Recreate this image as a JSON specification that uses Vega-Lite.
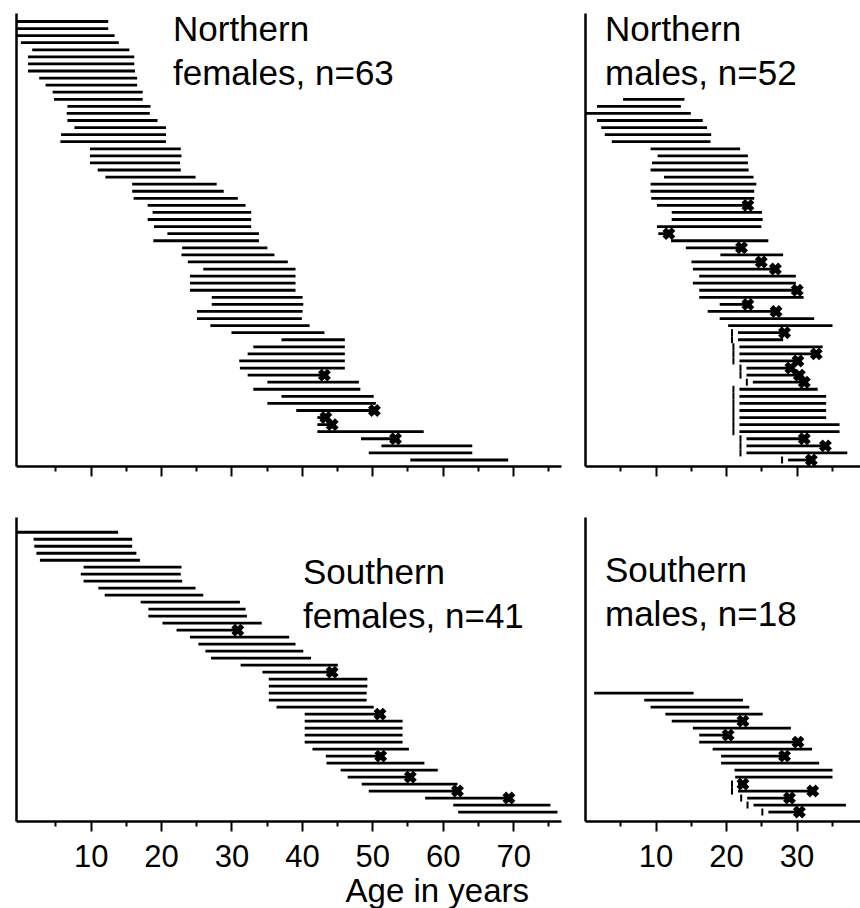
{
  "$schema": "https://vega.github.io/schema/vega-lite/v6.json",
  "background": "white",
  "padding": {"left": 14, "top": 13, "right": 0, "bottom": 0},
  "config": {
    "view": {"stroke": null},
    "font": "Liberation Sans",
    "axis": {"domainColor": "black", "domainWidth": 2.5, "tickColor": "black", "tickWidth": 2, "labelColor": "black", "labelFont": "Liberation Sans", "labelFontSize": 31, "labelPadding": 11, "grid": false, "labelFlush": false, "labelOverlap": false},
    "axisY": {"domain": true, "ticks": false, "labels": false, "title": null, "domainColor": "black", "domainWidth": 2.5}
  },
  "title": {"text": "Age in years", "orient": "bottom", "anchor": "middle", "fontSize": 33, "fontWeight": "normal", "font": "Liberation Sans", "color": "black", "offset": 4},
  "columns": 2,
  "spacing": {"row": 40, "column": 22},
  "datasets": {
    "tl": [
      {"r":62,"s":-0.6,"e":12.5},{"r":61,"s":-0.6,"e":12.5},{"r":60,"s":-0.6,"e":13.4},{"r":59,"s":0.1,"e":14.0},
      {"r":58,"s":1.7,"e":15.5},{"r":57,"s":1.1,"e":16.2},{"r":56,"s":1.1,"e":16.2},{"r":55,"s":1.1,"e":16.3},
      {"r":54,"s":2.7,"e":16.6},{"r":53,"s":3.6,"e":16.6},{"r":52,"s":4.6,"e":17.4},{"r":51,"s":4.8,"e":17.4},
      {"r":50,"s":6.7,"e":18.5},{"r":49,"s":6.6,"e":18.4},{"r":48,"s":6.7,"e":19.5},{"r":47,"s":7.7,"e":20.7},
      {"r":46,"s":5.8,"e":20.7},{"r":45,"s":5.7,"e":20.7},{"r":44,"s":9.9,"e":22.8},{"r":43,"s":9.9,"e":22.9},
      {"r":42,"s":9.9,"e":22.7},{"r":41,"s":11.0,"e":22.8},{"r":40,"s":12.1,"e":24.9},{"r":39,"s":15.9,"e":27.9},
      {"r":38,"s":15.9,"e":28.9},{"r":37,"s":16.1,"e":30.9},{"r":36,"s":18.1,"e":32.0},{"r":35,"s":18.8,"e":32.8},
      {"r":34,"s":18.1,"e":32.8},{"r":33,"s":19.0,"e":32.8},{"r":32,"s":20.9,"e":33.9},{"r":31,"s":18.9,"e":33.9},
      {"r":30,"s":23.0,"e":35.1},{"r":29,"s":22.9,"e":36.1},{"r":28,"s":23.8,"e":38.0},{"r":27,"s":26.0,"e":39.1},
      {"r":26,"s":24.1,"e":39.1},{"r":25,"s":24.1,"e":39.1},{"r":24,"s":24.1,"e":39.1},{"r":23,"s":27.2,"e":40.1},
      {"r":22,"s":27.2,"e":40.2},{"r":21,"s":25.1,"e":40.1},{"r":20,"s":25.1,"e":40.0},{"r":19,"s":27.0,"e":41.1},
      {"r":18,"s":30.0,"e":43.2},{"r":17,"s":37.1,"e":46.1},{"r":16,"s":33.1,"e":46.1},{"r":15,"s":32.3,"e":46.1},
      {"r":14,"s":31.1,"e":46.1},{"r":13,"s":31.2,"e":46.1},{"r":12,"s":32.3,"e":43.2,"d":1},{"r":11,"s":35.1,"e":48.1},
      {"r":10,"s":33.1,"e":48.3},{"r":9,"s":37.1,"e":50.2},{"r":8,"s":35.1,"e":50.5},{"r":7,"s":39.2,"e":50.3,"d":1},
      {"r":6,"s":42.2,"e":43.4,"d":1},{"r":5,"s":42.2,"e":44.3,"d":1},{"r":4,"s":42.2,"e":57.3},{"r":3,"s":48.4,"e":53.3,"d":1},
      {"r":2,"s":51.3,"e":64.2},{"r":1,"s":49.5,"e":64.2},{"r":0,"s":55.4,"e":69.3}
    ],
    "tr": [
      {"r":51,"s":5.4,"e":14.1},{"r":50,"s":1.7,"e":13.6},{"r":49,"s":0,"e":15.0},{"r":48,"s":1.7,"e":16.7},
      {"r":47,"s":2.3,"e":17.3},{"r":46,"s":2.8,"e":17.9},{"r":45,"s":3.8,"e":17.8},{"r":44,"s":9.3,"e":22.0},
      {"r":43,"s":10.3,"e":23.1},{"r":42,"s":9.5,"e":23.1},{"r":41,"s":9.3,"e":23.2},{"r":40,"s":11.2,"e":23.9},
      {"r":39,"s":9.3,"e":24.3},{"r":38,"s":9.3,"e":24.0},{"r":37,"s":9.4,"e":24.0},{"r":36,"s":10.2,"e":23.1,"d":1},
      {"r":35,"s":12.3,"e":25.1},{"r":34,"s":12.3,"e":25.2},{"r":33,"s":10.2,"e":25.0},{"r":32,"s":10.4,"e":11.9,"d":1},
      {"r":31,"s":12.2,"e":26.0},{"r":30,"s":14.3,"e":22.2,"d":1},{"r":29,"s":19.2,"e":28.1},{"r":28,"s":15.1,"e":25.0,"d":1},
      {"r":27,"s":15.3,"e":27.0,"d":1},{"r":26,"s":16.2,"e":29.9},{"r":25,"s":15.3,"e":29.9},{"r":24,"s":16.2,"e":30.1,"d":1},
      {"r":23,"s":16.2,"e":31.0},{"r":22,"s":19.1,"e":23.1,"d":1},{"r":21,"s":17.4,"e":27.1,"d":1},{"r":20,"s":19.1,"e":32.5},
      {"r":19,"s":20.3,"e":35.1},{"r":18,"s":21.7,"e":28.3,"d":1,"m":1},{"r":17,"s":21.7,"e":28.1,"m":1},{"r":16,"s":21.9,"e":33.7,"m":1},
      {"r":15,"s":21.9,"e":32.8,"d":1,"m":1},{"r":14,"s":21.9,"e":30.2,"d":1,"m":1},{"r":13,"s":22.9,"e":29.2,"d":1,"m":1},{"r":12,"s":22.9,"e":30.4,"d":1,"m":1},
      {"r":11,"s":23.8,"e":31.1,"d":1,"m":1},{"r":10,"s":21.9,"e":33.0,"m":1},{"r":9,"s":21.9,"e":34.2,"m":1},{"r":8,"s":21.9,"e":34.2,"m":1},
      {"r":7,"s":21.9,"e":34.2,"m":1},{"r":6,"s":21.9,"e":34.2,"m":1},{"r":5,"s":21.9,"e":36.1,"m":1},{"r":4,"s":21.9,"e":36.1,"m":1},
      {"r":3,"s":22.9,"e":31.1,"d":1,"m":1},{"r":2,"s":22.9,"e":34.1,"d":1,"m":1},{"r":1,"s":22.9,"e":37.2,"m":1},{"r":0,"s":28.8,"e":32.1,"d":1,"m":1}
    ],
    "bl": [
      {"r":40,"s":-0.6,"e":13.9},{"r":39,"s":1.9,"e":15.9},{"r":38,"s":2.0,"e":15.9},{"r":37,"s":2.3,"e":16.5},
      {"r":36,"s":2.8,"e":17.0},{"r":35,"s":9.0,"e":22.9},{"r":34,"s":8.6,"e":22.8},{"r":33,"s":9.0,"e":23.0},
      {"r":32,"s":11.1,"e":24.9},{"r":31,"s":12.0,"e":26.0},{"r":30,"s":17.1,"e":31.2},{"r":29,"s":18.2,"e":32.0},
      {"r":28,"s":18.2,"e":32.2},{"r":27,"s":20.2,"e":34.3},{"r":26,"s":22.2,"e":30.9,"d":1},{"r":25,"s":24.1,"e":38.2},
      {"r":24,"s":25.3,"e":39.1},{"r":23,"s":26.3,"e":40.2},{"r":22,"s":27.1,"e":41.3},{"r":21,"s":31.3,"e":45.1},
      {"r":20,"s":34.4,"e":44.3,"d":1},{"r":19,"s":35.3,"e":49.3},{"r":18,"s":35.3,"e":49.3},{"r":17,"s":35.3,"e":49.2},
      {"r":16,"s":35.3,"e":49.2},{"r":15,"s":36.4,"e":50.2},{"r":14,"s":40.4,"e":51.1,"d":1},{"r":13,"s":40.4,"e":54.3},
      {"r":12,"s":40.4,"e":54.3},{"r":11,"s":40.4,"e":54.3},{"r":10,"s":40.4,"e":54.3},{"r":9,"s":41.5,"e":55.2},
      {"r":8,"s":43.4,"e":51.2,"d":1},{"r":7,"s":43.5,"e":57.4},{"r":6,"s":45.5,"e":59.3},{"r":5,"s":46.5,"e":55.4,"d":1},
      {"r":4,"s":48.5,"e":62.1},{"r":3,"s":49.5,"e":62.1,"d":1},{"r":2,"s":57.5,"e":69.4,"d":1},{"r":1,"s":61.5,"e":75.3},
      {"r":0,"s":62.2,"e":76.3}
    ],
    "br": [
      {"r":17,"s":1.3,"e":15.4},{"r":16,"s":8.4,"e":22.4},{"r":15,"s":9.3,"e":23.3},{"r":14,"s":11.4,"e":25.2},
      {"r":13,"s":12.3,"e":22.4,"d":1},{"r":12,"s":15.3,"e":29.2},{"r":11,"s":16.2,"e":20.3,"d":1},{"r":10,"s":16.2,"e":30.2,"d":1},
      {"r":9,"s":18.1,"e":32.2},{"r":8,"s":19.3,"e":28.3,"d":1},{"r":7,"s":19.3,"e":33.2},{"r":6,"s":21.2,"e":35.1},
      {"r":5,"s":21.3,"e":35.1},{"r":4,"s":21.7,"e":22.4,"d":1,"m":1},{"r":3,"s":21.7,"e":32.3,"d":1,"m":1},{"r":2,"s":23.0,"e":29.0,"d":1,"m":1},
      {"r":1,"s":23.9,"e":37.0,"m":1},{"r":0,"s":26.0,"e":30.4,"d":1,"m":1}
    ]
  },
  "concat": [
    {
      "width": 545, "height": 453,
      "title": {"text": ["Northern", "females, n=63"], "anchor": "start", "orient": "top", "frame": "group", "fontSize": 35, "fontWeight": "normal", "font": "Liberation Sans", "color": "black", "lineHeight": 44, "baseline": "top", "offset": 0, "dx": 157, "dy": 79},
      "data": {"name": "tl"},
      "resolve": {"axis": {"x": "independent"}},
      "layer": [
        {"mark": {"type": "rule", "strokeWidth": 2.8, "color": "black", "strokeCap": "butt"},
         "encoding": {
           "x": {"field": "s", "type": "quantitative", "scale": {"domain": [-0.6, 76.8], "nice": false, "zero": false}, "axis": {"orient": "bottom", "values": [10,20,30,40,50,60,70], "tickSize": 10, "labels": false, "domain": true, "title": null}},
           "x2": {"field": "e"},
           "y": {"field": "r", "type": "quantitative", "scale": {"domain": [-0.85, 63.2], "nice": false, "zero": false}, "axis": {"title": null, "labels": false, "ticks": false, "domain": true}}
         }},
        {"transform": [{"filter": "datum.d == 1"}],
         "mark": {"type": "point", "shape": "cross", "angle": 45, "filled": true, "size": 170, "color": "black", "opacity": 1},
         "encoding": {
           "x": {"field": "e", "type": "quantitative", "scale": {"domain": [-0.6, 76.8], "nice": false, "zero": false}, "axis": {"orient": "bottom", "values": [5,15,25,35,45,55,65,75], "tickSize": 5, "labels": false, "domain": false, "title": null}},
           "y": {"field": "r", "type": "quantitative", "scale": {"domain": [-0.85, 63.2], "nice": false, "zero": false}, "axis": {"title": null, "labels": false, "ticks": false, "domain": true}}
         }}
      ]
    },
    {
      "width": 275, "height": 453,
      "title": {"text": ["Northern", "males, n=52"], "anchor": "start", "orient": "top", "frame": "group", "fontSize": 35, "fontWeight": "normal", "font": "Liberation Sans", "color": "black", "lineHeight": 44, "baseline": "top", "offset": 0, "dx": 20, "dy": 79},
      "data": {"name": "tr"},
      "resolve": {"axis": {"x": "independent"}},
      "layer": [
        {"mark": {"type": "rule", "strokeWidth": 2.8, "color": "black", "strokeCap": "butt"},
         "encoding": {
           "x": {"field": "s", "type": "quantitative", "scale": {"domain": [0, 39], "nice": false, "zero": false}, "axis": {"orient": "bottom", "values": [10,20,30], "tickSize": 10, "labels": false, "domain": true, "title": null}},
           "x2": {"field": "e"},
           "y": {"field": "r", "type": "quantitative", "scale": {"domain": [-0.85, 63.2], "nice": false, "zero": false}, "axis": {"title": null, "labels": false, "ticks": false, "domain": true}}
         }},
        {"transform": [{"filter": "datum.d == 1"}],
         "mark": {"type": "point", "shape": "cross", "angle": 45, "filled": true, "size": 170, "color": "black", "opacity": 1},
         "encoding": {
           "x": {"field": "e", "type": "quantitative", "scale": {"domain": [0, 39], "nice": false, "zero": false}, "axis": {"orient": "bottom", "values": [5,15,25,35], "tickSize": 5, "labels": false, "domain": false, "title": null}},
           "y": {"field": "r", "type": "quantitative", "scale": {"domain": [-0.85, 63.2], "nice": false, "zero": false}, "axis": {"title": null, "labels": false, "ticks": false, "domain": true}}
         }},
        {"transform": [{"filter": "datum.m == 1"}],
         "mark": {"type": "tick", "orient": "vertical", "size": 7, "thickness": 2, "xOffset": -6, "color": "black", "opacity": 1},
         "encoding": {
           "x": {"field": "s", "type": "quantitative", "scale": {"domain": [0, 39], "nice": false, "zero": false}, "axis": null},
           "y": {"field": "r", "type": "quantitative", "scale": {"domain": [-0.85, 63.2], "nice": false, "zero": false}, "axis": {"title": null, "labels": false, "ticks": false, "domain": true}}
         }}
      ]
    },
    {
      "width": 545, "height": 304,
      "title": {"text": ["Southern", "females, n=41"], "anchor": "start", "orient": "top", "frame": "group", "fontSize": 35, "fontWeight": "normal", "font": "Liberation Sans", "color": "black", "lineHeight": 44, "baseline": "top", "offset": 0, "dx": 287, "dy": 118},
      "data": {"name": "bl"},
      "resolve": {"axis": {"x": "independent"}},
      "layer": [
        {"mark": {"type": "rule", "strokeWidth": 2.8, "color": "black", "strokeCap": "butt"},
         "encoding": {
           "x": {"field": "s", "type": "quantitative", "scale": {"domain": [-0.6, 76.8], "nice": false, "zero": false}, "axis": {"orient": "bottom", "values": [10,20,30,40,50,60,70], "tickSize": 10, "labels": true, "domain": true, "title": null}},
           "x2": {"field": "e"},
           "y": {"field": "r", "type": "quantitative", "scale": {"domain": [-1.28, 42.18], "nice": false, "zero": false}, "axis": {"title": null, "labels": false, "ticks": false, "domain": true}}
         }},
        {"transform": [{"filter": "datum.d == 1"}],
         "mark": {"type": "point", "shape": "cross", "angle": 45, "filled": true, "size": 170, "color": "black", "opacity": 1},
         "encoding": {
           "x": {"field": "e", "type": "quantitative", "scale": {"domain": [-0.6, 76.8], "nice": false, "zero": false}, "axis": {"orient": "bottom", "values": [5,15,25,35,45,55,65,75], "tickSize": 5, "labels": false, "domain": false, "title": null}},
           "y": {"field": "r", "type": "quantitative", "scale": {"domain": [-1.28, 42.18], "nice": false, "zero": false}, "axis": {"title": null, "labels": false, "ticks": false, "domain": true}}
         }}
      ]
    },
    {
      "width": 275, "height": 304,
      "title": {"text": ["Southern", "males, n=18"], "anchor": "start", "orient": "top", "frame": "group", "fontSize": 35, "fontWeight": "normal", "font": "Liberation Sans", "color": "black", "lineHeight": 44, "baseline": "top", "offset": 0, "dx": 20, "dy": 116},
      "data": {"name": "br"},
      "resolve": {"axis": {"x": "independent"}},
      "layer": [
        {"mark": {"type": "rule", "strokeWidth": 2.8, "color": "black", "strokeCap": "butt"},
         "encoding": {
           "x": {"field": "s", "type": "quantitative", "scale": {"domain": [0, 39], "nice": false, "zero": false}, "axis": {"orient": "bottom", "values": [10,20,30], "tickSize": 10, "labels": true, "domain": true, "title": null}},
           "x2": {"field": "e"},
           "y": {"field": "r", "type": "quantitative", "scale": {"domain": [-1.28, 42.18], "nice": false, "zero": false}, "axis": {"title": null, "labels": false, "ticks": false, "domain": true}}
         }},
        {"transform": [{"filter": "datum.d == 1"}],
         "mark": {"type": "point", "shape": "cross", "angle": 45, "filled": true, "size": 170, "color": "black", "opacity": 1},
         "encoding": {
           "x": {"field": "e", "type": "quantitative", "scale": {"domain": [0, 39], "nice": false, "zero": false}, "axis": {"orient": "bottom", "values": [5,15,25,35], "tickSize": 5, "labels": false, "domain": false, "title": null}},
           "y": {"field": "r", "type": "quantitative", "scale": {"domain": [-1.28, 42.18], "nice": false, "zero": false}, "axis": {"title": null, "labels": false, "ticks": false, "domain": true}}
         }},
        {"transform": [{"filter": "datum.m == 1"}],
         "mark": {"type": "tick", "orient": "vertical", "size": 7, "thickness": 2, "xOffset": -6, "color": "black", "opacity": 1},
         "encoding": {
           "x": {"field": "s", "type": "quantitative", "scale": {"domain": [0, 39], "nice": false, "zero": false}, "axis": null},
           "y": {"field": "r", "type": "quantitative", "scale": {"domain": [-1.28, 42.18], "nice": false, "zero": false}, "axis": {"title": null, "labels": false, "ticks": false, "domain": true}}
         }}
      ]
    }
  ]
}
